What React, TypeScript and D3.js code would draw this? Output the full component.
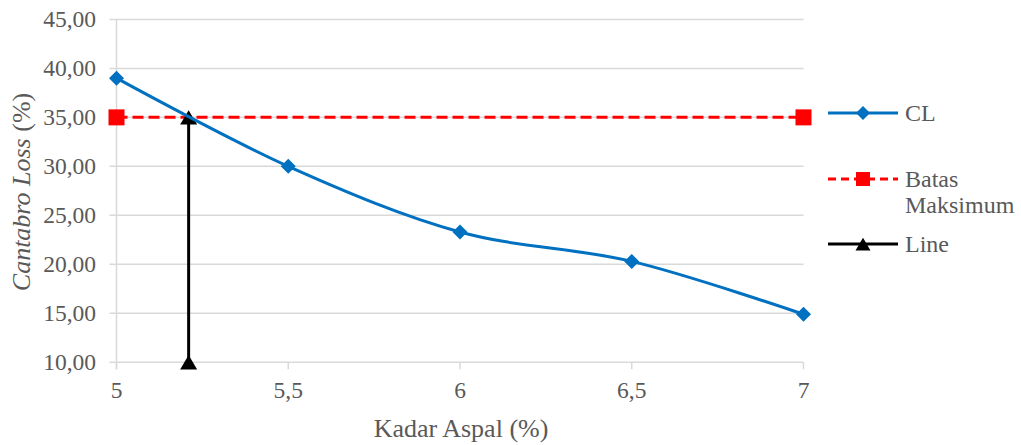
import React from "react";
import * as d3 from "d3";

// Kadar aspal (%) vs Cantabro Loss (%)
const kadarAspal = [5, 5.5, 6, 6.5, 7];
const clValues = [39.0, 30.0, 23.3, 20.3, 14.9];
const batasX = [5, 7];
const batasValues = [35, 35];
const lineX = [5.21, 5.21];
const lineValues = [10, 35];
const yTicks = [10, 15, 20, 25, 30, 35, 40, 45];
const xTicks = [5, 5.5, 6, 6.5, 7];

const W = 1021;
const H = 445;
const SERIF = "Liberation Serif";
const TEXT = "#595959";
const GRID = "#d9d9d9";
const BLUE = "#0070C0";
const RED = "#FF0000";

const fmtY = (v: number) => v.toFixed(2).replace(".", ",");
const fmtX = (v: number) => String(v).replace(".", ",");

function Diamond({ x, y, r }: { x: number; y: number; r: number }) {
  return <path d={`M${x},${y - r}L${x + r},${y}L${x},${y + r}L${x - r},${y}Z`} fill={BLUE} />;
}
function Square({ x, y, s }: { x: number; y: number; s: number }) {
  return <rect x={x - s / 2} y={y - s / 2} width={s} height={s} fill={RED} />;
}
function Triangle({ x, y, w }: { x: number; y: number; w: number }) {
  const h = w * 0.85;
  return <path d={`M${x},${y - h / 2}L${x + w / 2},${y + h / 2}L${x - w / 2},${y + h / 2}Z`} fill="#000" />;
}

export default function App() {
  const x = d3.scaleLinear().domain([5, 7]).range([116.5, 803.5]);
  const y = d3.scaleLinear().domain([10, 45]).range([362.3, 19.4]);

  const clPts: [number, number][] = kadarAspal.map((k, i) => [x(k), y(clValues[i])]);
  const clPath = d3.line().curve(d3.curveCatmullRom.alpha(0))(clPts) || "";
  const batasPts: [number, number][] = batasX.map((k, i) => [x(k), y(batasValues[i])]);
  const linePts: [number, number][] = lineX.map((k, i) => [x(k), y(lineValues[i])]);
  const straight = d3.line();

  const legX0 = 828;
  const legX1 = 898;
  const legMid = (legX0 + legX1) / 2;

  return (
    <svg width={W} height={H} style={{ position: "absolute", left: 0, top: 0, background: "#fff", fontFamily: SERIF }}>
      {/* gridlines and y ticks */}
      {yTicks.map((t) => (
        <line key={"g" + t} x1={x(5) - 7} x2={x(7)} y1={y(t)} y2={y(t)} stroke={GRID} strokeWidth={1.5} />
      ))}
      <line x1={x(5)} x2={x(5)} y1={y(45)} y2={y(10) + 7} stroke={GRID} strokeWidth={1.5} />
      {xTicks.map((t) => (
        <line key={"xt" + t} x1={x(t)} x2={x(t)} y1={y(10)} y2={y(10) + 7} stroke={GRID} strokeWidth={1.5} />
      ))}

      <g fontFamily={SERIF} fill={TEXT}>
        {yTicks.map((t) => (
          <text key={"yl" + t} x={96} y={y(t) + 8} textAnchor="end" fontSize={23.5}>
            {fmtY(t)}
          </text>
        ))}
        {xTicks.map((t) => (
          <text key={"xl" + t} x={x(t)} y={398} textAnchor="middle" fontSize={23.5}>
            {fmtX(t)}
          </text>
        ))}

        <text x={461} y={437} textAnchor="middle" fontSize={26}>
          Kadar Aspal (%)
        </text>
        <text transform="translate(30,192) rotate(-90)" textAnchor="middle" fontSize={26}>
          <tspan fontStyle="italic">Cantabro Loss</tspan> (%)
        </text>

        <text x={905} y={121} fontSize={24}>CL</text>
        <text x={905} y={187} fontSize={24}>Batas</text>
        <text x={905} y={213} fontSize={24}>Maksimum</text>
        <text x={905} y={252} fontSize={24}>Line</text>
      </g>

      {/* Batas Maksimum */}
      <path d={straight(batasPts) || ""} fill="none" stroke={RED} strokeWidth={3} strokeDasharray="11,5" />
      {batasPts.map(([px, py], i) => (
        <Square key={"s" + i} x={px} y={py} s={16} />
      ))}

      {/* Line */}
      <path d={straight(linePts) || ""} fill="none" stroke="#000" strokeWidth={3} />
      {linePts.map(([px, py], i) => (
        <Triangle key={"t" + i} x={px} y={py} w={17} />
      ))}

      {/* CL */}
      <path d={clPath} fill="none" stroke={BLUE} strokeWidth={3} />
      {clPts.map(([px, py], i) => (
        <Diamond key={"d" + i} x={px} y={py} r={7.5} />
      ))}

      {/* legend keys */}
      <line x1={legX0} x2={legX1} y1={113} y2={113} stroke={BLUE} strokeWidth={3} />
      <Diamond x={legMid} y={113} r={7} />
      <line x1={legX0} x2={legX1} y1={179} y2={179} stroke={RED} strokeWidth={3} strokeDasharray="8,5" />
      <Square x={legMid} y={179} s={14} />
      <line x1={legX0} x2={legX1} y1={244} y2={244} stroke="#000" strokeWidth={3} />
      <Triangle x={legMid} y={244} w={15} />
    </svg>
  );
}
